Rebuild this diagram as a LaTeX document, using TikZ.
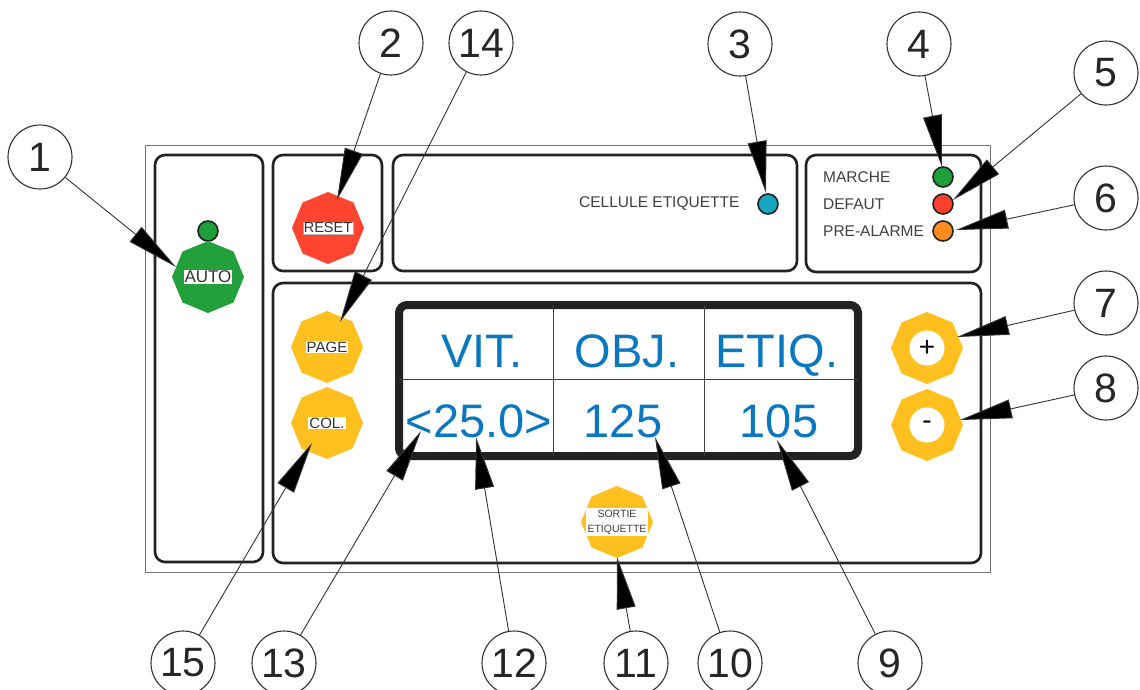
\documentclass[tikz,border=0pt]{standalone}
\usepackage{fontspec}
\setmainfont{Liberation Sans}
\usetikzlibrary{shapes.geometric,arrows.meta}
\definecolor{autogreen}{HTML}{22A03C}
\definecolor{resetred}{HTML}{FF4530}
\definecolor{btnyellow}{HTML}{FDC01E}
\definecolor{ledgreen}{HTML}{1E9E3A}
\definecolor{ledred}{HTML}{FF3F2E}
\definecolor{ledorange}{HTML}{FF8C1E}
\definecolor{ledcyan}{HTML}{16A6C0}
\definecolor{dispblue}{HTML}{0A78C0}
\definecolor{panelline}{HTML}{222222}
\begin{document}
\begin{tikzpicture}[x=1pt,y=-1pt,
 panel/.style={draw=panelline, line width=2.6pt, rounded corners=10pt},
 num/.style={circle, draw=black!80, line width=1.1pt, minimum size=64pt, inner sep=0pt, font=\fontsize{41}{41}\selectfont, text=black!85},
 leader/.style={draw=black!80, line width=0.9pt, -{Triangle[length=52pt,width=19pt,fill=black]}},
 btn/.style={regular polygon, regular polygon sides=8, shape border rotate=22.5, minimum size=72pt, inner sep=0pt, draw=none},
 blab/.style={fill=white, inner sep=1pt, text=black!80},
 led/.style={circle, draw=panelline, line width=1.6pt, minimum size=20pt, inner sep=0pt},
 disp/.style={text=dispblue, font=\fontsize{47}{47}\selectfont, anchor=base, inner sep=0pt},
 small/.style={font=\fontsize{15.5}{15.5}\selectfont, text=black!75, inner sep=0pt}
]
\useasboundingbox (0,0) rectangle (1140,689);
\fill[white] (0,0) rectangle (1140,689);

% outer frame
\draw[black!55, line width=1pt] (145,145) rectangle (990,572);
% panels
\draw[panel] (155,155) rectangle (263,562);
\draw[panel] (273,155) rectangle (382,271);
\draw[panel] (393,155) rectangle (797,271);
\draw[panel] (806,155) rectangle (981,272);
\draw[panel] (273,283) rectangle (981,563);

% display
\draw[draw=panelline, line width=8pt, rounded corners=8pt] (399,305) rectangle (858,456);
\draw[black!75, line width=0.9pt] (553,305) -- (553,456) (704,305) -- (704,456) (399,379) -- (858,379);
\node[disp] (vit) at (482,367) {VIT.};
\node[disp] (obj) at (627,367) {OBJ.};
\node[disp] (etq) at (777,367) {ETIQ.};
\node[disp] (v1) at (479,437) {<25.0>};
\node[disp] (v2) at (623,437) {125};
\node[disp] (v3) at (779,437) {105};

% AUTO
\node[led, fill=ledgreen] (autoled) at (208,231) {};
\node[btn, fill=autogreen] (auto) at (208,277) {};
\node[blab, font=\fontsize{17}{17}\selectfont] (autot) at (auto) {AUTO};
% RESET
\node[btn, fill=resetred] (reset) at (328,228) {};
\node[blab, font=\fontsize{14.5}{14.5}\selectfont, draw=black!30, line width=0.4pt] (resett) at (reset) {RESET};
% cellule
\node[small, anchor=west] (cell) at (579,204) {CELLULE ETIQUETTE};
\node[led, fill=ledcyan] (cellled) at (768,204) {};
% status leds
\node[small, anchor=west] (marche) at (823,177) {MARCHE};
\node[small, anchor=west] (defaut) at (823,204) {DEFAUT};
\node[small, anchor=west] (prea) at (823,231) {PRE-ALARME};
\node[led, fill=ledgreen] (ledm) at (943,177) {};
\node[led, fill=ledred] (ledd) at (943,204) {};
\node[led, fill=ledorange] (ledp) at (943,231) {};
% yellow buttons
\node[btn, fill=btnyellow] (page) at (327,347) {};
\node[blab, font=\fontsize{15}{15}\selectfont] (paget) at (page) {PAGE};
\node[btn, fill=btnyellow] (col) at (327,423) {};
\node[blab, font=\fontsize{15}{15}\selectfont] (colt) at (col) {COL.};
\node[btn, fill=btnyellow] (plus) at (927,348) {};
\node[circle, fill=white, minimum size=35pt, inner sep=0pt, font=\fontsize{28}{28}\selectfont] (plust) at (plus) {+};
\node[btn, fill=btnyellow] (minus) at (927,425) {};
\node[circle, fill=white, minimum size=35pt, inner sep=0pt, font=\fontsize{28}{28}\selectfont] (minust) at (minus) {-};
\node[btn, fill=btnyellow] (sortie) at (617,522) {};
\node[fill=white, inner sep=2pt, align=center, font=\fontsize{10.5}{15}\selectfont, text=black!75] (sortiet) at (617,522) {SORTIE\\ETIQUETTE};

% callout circles
\node[num] (n1) at (40,157) {1};
\node[num] (n2) at (391,43) {2};
\node[num] (n14) at (481,43) {14};
\node[num] (n3) at (740,44) {3};
\node[num] (n4) at (919,44) {4};
\node[num] (n5) at (1106,73) {5};
\node[num] (n6) at (1106,198) {6};
\node[num] (n7) at (1106,303) {7};
\node[num] (n8) at (1106,388) {8};
\node[num] (n9) at (890,663) {9};
\node[num] (n10) at (730,663) {10};
\node[num] (n11) at (636,663) {11};
\node[num] (n12) at (514,663) {12};
\node[num] (n13) at (284,663) {13};
\node[num] (n15) at (183,663) {15};

% tips
\coordinate (t1) at (176,267);
\coordinate (t2) at (337,200);
\coordinate (t14) at (340,322);
\coordinate (t3) at (766,193);
\coordinate (t4) at (942,167);
\coordinate (t5) at (953,200);
\coordinate (t6) at (956,230);
\coordinate (t7) at (957,337);
\coordinate (t8) at (960,420);
\coordinate (t9) at (777,440);
\coordinate (t10) at (655,437);
\coordinate (t11) at (617,557);
\coordinate (t12) at (476,437);
\coordinate (t13) at (421,431);
\coordinate (t15) at (312,443);

\foreach \k in {1,2,14,3,4,5,6,7,8,9,10,11,12,13,15}
  \draw[leader] (n\k) -- (t\k);
\end{tikzpicture}
\end{document}
